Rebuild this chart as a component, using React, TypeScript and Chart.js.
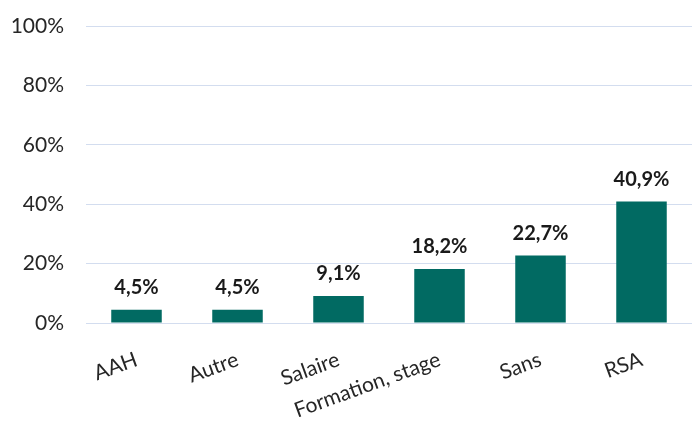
import React, { useEffect, useRef } from "react";
import { Chart, registerables } from "chart.js";

Chart.register(...registerables);

const categories = ["AAH", "Autre", "Salaire", "Formation, stage", "Sans", "RSA"];
const values = [4.5, 4.5, 9.1, 18.2, 22.7, 40.9];
const yTicks = [0, 20, 40, 60, 80, 100];

const FONT = "Lato, 'Open Sans', sans-serif";

const fmt = (v: number) => v.toFixed(1).replace(".", ",") + "%";

const labelPlugin = {
  id: "barLabels",
  afterDatasetsDraw(chart: any) {
    const ctx = chart.ctx;
    const meta = chart.getDatasetMeta(0);
    ctx.save();
    ctx.font = `bold 20px ${FONT}`;
    ctx.fillStyle = "#1a1a1a";
    ctx.textAlign = "center";
    ctx.textBaseline = "alphabetic";
    meta.data.forEach((bar: any, i: number) => {
      ctx.fillText(fmt(values[i]), bar.x, bar.y - 16);
    });
    ctx.restore();
  },
};

export default function App() {
  const ref = useRef<HTMLCanvasElement>(null);
  useEffect(() => {
    if (!ref.current) return;
    const chart = new Chart(ref.current, {
      type: "bar",
      data: {
        labels: categories,
        datasets: [
          {
            data: values,
            backgroundColor: "#016A62",
            borderWidth: 0,
            barPercentage: 0.5,
            categoryPercentage: 1,
          },
        ],
      },
      options: {
        responsive: false,
        animation: false,
        layout: { padding: { top: 26, right: 0, left: 0, bottom: 0 } },
        plugins: { legend: { display: false }, tooltip: { enabled: false } },
        scales: {
          x: {
            grid: { display: false },
            border: { display: false },
            ticks: {
              minRotation: 20,
              maxRotation: 20,
              padding: 16,
              color: "#262626",
              font: { family: FONT, size: 21 },
            },
            afterFit(scale: any) {
              scale.height = 98;
            },
          },
          y: {
            min: 0,
            max: 100,
            afterBuildTicks(scale: any) {
              scale.ticks = yTicks.map((v) => ({ value: v }));
            },
            grid: { color: "#D3DDEF", lineWidth: 1, drawTicks: false },
            border: { display: false },
            ticks: {
              padding: 22,
              color: "#262626",
              font: { family: FONT, size: 21 },
              callback: (v: any) => v + "%",
            },
            afterFit(scale: any) {
              scale.width = 86;
              scale.paddingTop = 0;
              scale.paddingBottom = 0;
            },
          },
        },
      },
      plugins: [labelPlugin],
    });
    return () => chart.destroy();
  }, []);
  return (
    <div style={{ position: "fixed", left: 0, top: 0, width: 692, height: 421, background: "#fff" }}>
      <canvas ref={ref} width={692} height={421} style={{ display: "block" }} />
    </div>
  );
}
